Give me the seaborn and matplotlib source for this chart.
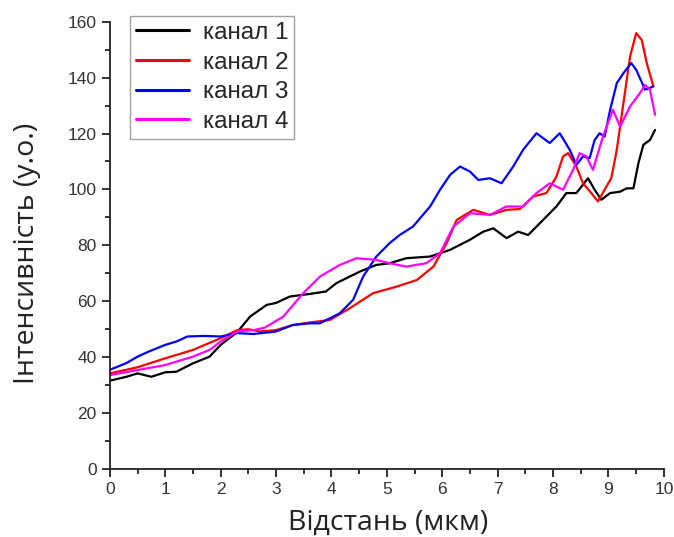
import matplotlib
matplotlib.use("Agg")
import matplotlib.pyplot as plt
from matplotlib.ticker import MultipleLocator
import seaborn as sns
import pandas as pd

ch1_x = [0, 0.3, 0.5, 0.75, 1.0, 1.2, 1.5, 1.8, 2.0, 2.3, 2.53, 2.83, 3.0, 3.25, 3.6, 3.9, 4.09, 4.51, 4.81,
         5.05, 5.35, 5.78, 6.14, 6.5, 6.74, 6.92, 7.16, 7.37, 7.55, 7.82, 8.06, 8.24, 8.42, 8.63, 8.75, 8.87,
         9.03, 9.21, 9.33, 9.45, 9.54, 9.63, 9.75, 9.84]
ch1_y = [31.6, 33.0, 34.2, 33.0, 34.6, 34.8, 37.8, 40.2, 44.4, 49.0, 54.5, 58.7, 59.4, 61.7, 62.6, 63.5, 66.5,
         70.6, 73.0, 73.6, 75.4, 76.0, 78.4, 82.0, 84.9, 86.1, 82.6, 84.9, 83.7, 89.1, 93.9, 98.7, 98.7, 104.0,
         99.9, 96.3, 98.7, 99.2, 100.4, 100.4, 109.4, 116.0, 117.7, 121.3]

ch2_x = [0, 0.5, 1.0, 1.5, 2.0, 2.3, 2.5, 2.7, 3.0, 3.3, 3.6, 3.97, 4.33, 4.75, 5.17, 5.54, 5.84, 6.08, 6.26,
         6.56, 6.86, 7.16, 7.4, 7.64, 7.88, 8.06, 8.18, 8.27, 8.42, 8.54, 8.69, 8.81, 8.93, 9.05, 9.15, 9.27,
         9.39, 9.5, 9.6, 9.69, 9.81]
ch2_y = [34.2, 36.4, 39.6, 42.6, 46.8, 49.7, 50.0, 49.2, 49.7, 51.5, 52.4, 53.3, 57.5, 62.9, 65.2, 67.6, 72.4,
         80.8, 89.1, 92.7, 90.9, 92.7, 93.0, 97.5, 98.7, 104.6, 111.8, 113.0, 108.2, 102.2, 98.7, 95.7, 99.9,
         104.0, 114.2, 130.9, 147.6, 155.9, 153.5, 145.2, 136.9]

ch3_x = [0, 0.3, 0.5, 0.7, 1.0, 1.2, 1.4, 1.7, 2.0, 2.3, 2.6, 3.0, 3.3, 3.6, 3.79, 4.15, 4.39, 4.57, 4.81,
         5.05, 5.23, 5.47, 5.78, 5.96, 6.14, 6.32, 6.5, 6.65, 6.86, 7.07, 7.28, 7.46, 7.7, 7.94, 8.12, 8.3,
         8.42, 8.54, 8.66, 8.75, 8.84, 8.93, 9.03, 9.15, 9.27, 9.41, 9.5, 9.66, 9.75, 9.81]
ch3_y = [35.5, 37.9, 40.2, 42.0, 44.4, 45.6, 47.4, 47.6, 47.4, 48.6, 48.3, 49.2, 51.5, 52.1, 52.1, 55.7, 60.5,
         68.8, 76.0, 80.8, 83.7, 86.7, 93.9, 99.9, 105.2, 108.2, 106.4, 103.4, 104.0, 102.2, 108.2, 114.2,
         120.1, 116.6, 120.1, 114.2, 108.8, 111.8, 111.2, 117.7, 120.1, 118.9, 128.5, 138.0, 141.6, 145.2,
         142.8, 135.7, 136.3, 136.9]

ch4_x = [0, 0.5, 1.0, 1.5, 1.8, 2.0, 2.3, 2.6, 2.8, 3.13, 3.49, 3.79, 4.15, 4.45, 4.81, 5.05, 5.35, 5.71,
         5.96, 6.2, 6.5, 6.86, 7.16, 7.46, 7.7, 7.94, 8.18, 8.36, 8.48, 8.6, 8.72, 8.9, 9.08, 9.21, 9.39,
         9.57, 9.66, 9.75, 9.84]
ch4_y = [33.6, 35.4, 37.2, 40.2, 42.6, 45.6, 49.2, 49.7, 50.6, 54.5, 62.9, 68.8, 73.0, 75.4, 74.8, 73.6, 72.4,
         73.6, 77.2, 86.7, 91.5, 90.9, 93.9, 93.9, 98.7, 102.2, 99.9, 107.0, 113.0, 111.8, 107.0, 118.9,
         128.5, 122.5, 129.7, 134.5, 137.4, 135.7, 126.7]

labels = ["канал 1", "канал 2", "канал 3", "канал 4"]
colors = ["#000000", "#ff0000", "#0000ff", "#ff00ff"]
x_label = "Відстань (мкм)"
y_label = "Інтенсивність (у.о.)"

frames = []
for lab, xs, ys in zip(labels, [ch1_x, ch2_x, ch3_x, ch4_x], [ch1_y, ch2_y, ch3_y, ch4_y]):
    frames.append(pd.DataFrame({"x": xs, "y": ys, "channel": lab}))
df = pd.concat(frames, ignore_index=True)

sns.set_style("ticks")
plt.rcParams["font.family"] = ["Liberation Sans", "DejaVu Sans"]

fig = plt.figure(figsize=(6.74, 5.37), dpi=100)
ax = fig.add_axes([0.163, 0.1266, 0.822, 0.833])

sns.lineplot(data=df, x="x", y="y", hue="channel", palette=dict(zip(labels, colors)),
             linewidth=1.6, ax=ax, sort=False, estimator=None)

ax.set_xlim(0, 10)
ax.set_ylim(0, 160)
ax.xaxis.set_major_locator(MultipleLocator(1))
ax.xaxis.set_minor_locator(MultipleLocator(0.5))
ax.yaxis.set_major_locator(MultipleLocator(20))
ax.yaxis.set_minor_locator(MultipleLocator(10))
sns.despine(ax=ax)
for s in ["left", "bottom"]:
    ax.spines[s].set_linewidth(1.3)
    ax.spines[s].set_color("#222222")
ax.tick_params(which="major", length=6, width=1.3, color="#222222", labelsize=12.5,
               labelcolor="#333333", direction="out")
ax.tick_params(which="minor", length=3.5, width=1.3, color="#222222", direction="out")

ax.set_xlabel(x_label, fontsize=20.5, family=["Open Sans", "DejaVu Sans"], color="#222222")
ax.set_ylabel(y_label, fontsize=20.5, family=["Open Sans", "DejaVu Sans"], color="#222222")
ax.xaxis.set_label_coords(0.503, -0.088)
ax.yaxis.set_label_coords(-0.124, 0.483)

leg = ax.legend(loc="upper left", bbox_to_anchor=(0.036, 1.013), borderaxespad=0, fontsize=17.5,
                frameon=True, fancybox=False, edgecolor="#888888", handlelength=2.2,
                handletextpad=0.55, labelspacing=0.31, borderpad=0.25, title=None)
leg.get_frame().set_linewidth(1.0)
for line in leg.get_lines():
    line.set_linewidth(2.2)

fig.savefig("out.png", dpi=100)
